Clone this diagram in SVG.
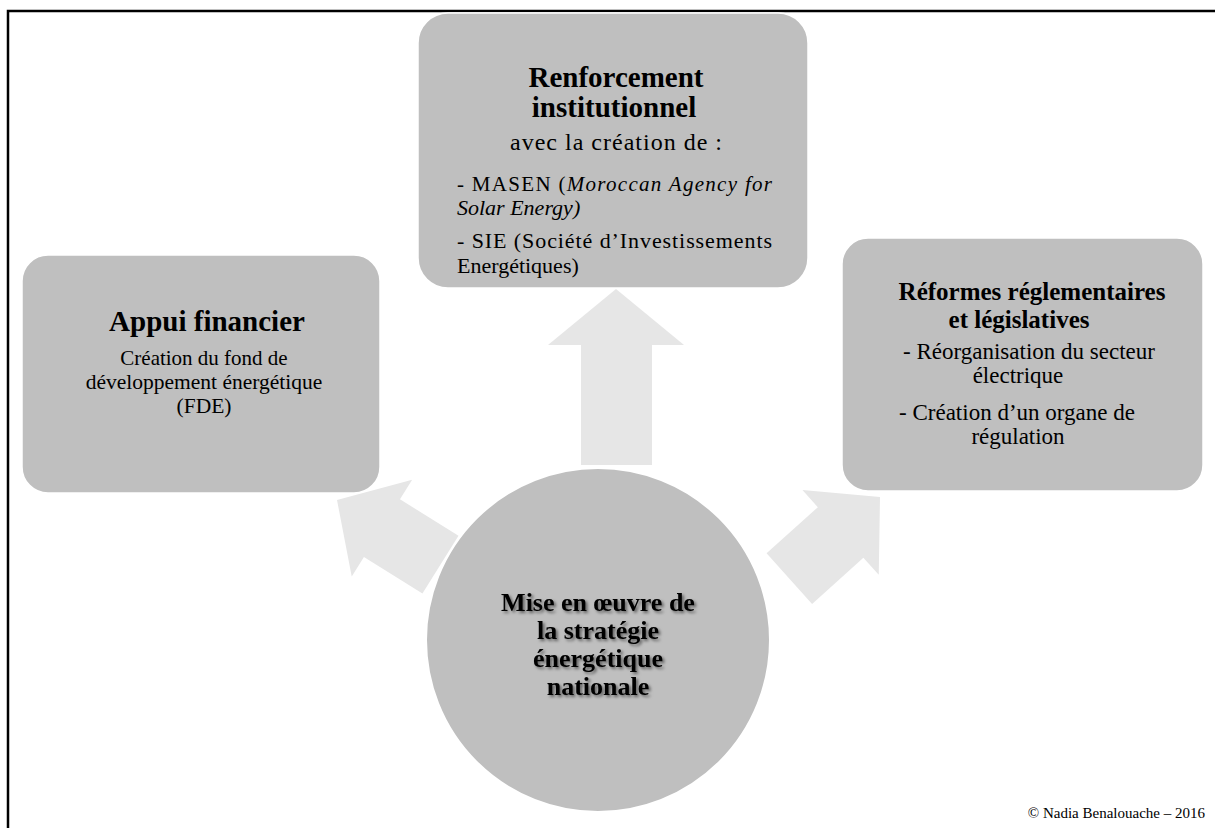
<svg xmlns="http://www.w3.org/2000/svg" width="1215" height="828" viewBox="0 0 1215 828">
<style>
.box{fill:#bfbfbf;stroke:#ffffff;stroke-width:1.5}
.arr{fill:#e6e6e6}
.t{font-family:"Liberation Serif","Times New Roman",serif;fill:#000;text-anchor:middle}
.s{text-anchor:start}
.h{font-weight:bold}
.c{font-weight:bold;font-size:26px}
</style>
<defs>
<filter id="sh" x="-10%" y="-10%" width="120%" height="130%">
<feDropShadow dx="2" dy="2" stdDeviation="1.5" flood-color="#000" flood-opacity="0.5"/>
</filter>
<polygon id="arrowShape" points="0,0 -53,-57 -53,-34 -122,-34 -122,34 -53,34 -53,57"/>
</defs>
<rect width="1215" height="828" fill="#fff"/>
<path d="M8,828 V11 H1215" fill="none" stroke="#000" stroke-width="2.5"/>

<g id="connectors">
<polygon class="arr" points="616,289 684,345 652,345 652,465 581,465 581,345 548,345"/>
<use href="#arrowShape" class="arr" transform="translate(337,500) rotate(-148)"/>
<use href="#arrowShape" class="arr" transform="translate(880,497) rotate(-42)"/>
</g>

<g id="node-top">
<rect class="box" x="418" y="13" width="390" height="275" rx="30"/>
<text class="t h" x="616" y="87" font-size="29">Renforcement</text>
<text class="t h" x="614" y="117" font-size="29">institutionnel</text>
<text class="t" x="616" y="150" font-size="24" textLength="212" lengthAdjust="spacing">avec la création de :</text>
<text class="t s" x="457" y="191" font-size="21" textLength="315" lengthAdjust="spacing">- MASEN (<tspan font-style="italic">Moroccan Agency for</tspan></text>
<text class="t s" x="457" y="215" font-size="22" font-style="italic">Solar Energy)</text>
<text class="t s" x="457" y="248" font-size="22" textLength="315" lengthAdjust="spacing">- SIE (Société d’Investissements</text>
<text class="t s" x="457" y="273" font-size="22">Energétiques)</text>
</g>

<g id="node-left">
<rect class="box" x="22" y="255" width="358" height="238" rx="26"/>
<text class="t h" x="207" y="331" font-size="29">Appui financier</text>
<text class="t" x="204" y="365" font-size="21">Création du fond de</text>
<text class="t" x="204" y="389" font-size="21.5">développement énergétique</text>
<text class="t" x="204" y="413" font-size="21.5">(FDE)</text>
</g>

<g id="node-right">
<rect class="box" x="842" y="238" width="361" height="253" rx="26"/>
<text class="t h" x="1032" y="300" font-size="25">Réformes réglementaires</text>
<text class="t h" x="1019" y="328" font-size="25">et législatives</text>
<text class="t" x="1029" y="359" font-size="23">- Réorganisation du secteur</text>
<text class="t" x="1018" y="383" font-size="23">électrique</text>
<text class="t" x="1017" y="420" font-size="23">- Création d’un organe de</text>
<text class="t" x="1018" y="444" font-size="23">régulation</text>
</g>

<g id="node-center">
<circle cx="598" cy="640" r="172" fill="#bfbfbf" stroke="#ffffff" stroke-width="2"/>
<g filter="url(#sh)">
<text class="t c" x="598" y="611">Mise en œuvre de</text>
<text class="t c" x="598" y="639">la stratégie</text>
<text class="t c" x="598" y="667">énergétique</text>
<text class="t c" x="598" y="695">nationale</text>
</g>
</g>

<text class="t" x="1205" y="818" font-size="15" style="text-anchor:end">© Nadia Benalouache – 2016</text>
</svg>
